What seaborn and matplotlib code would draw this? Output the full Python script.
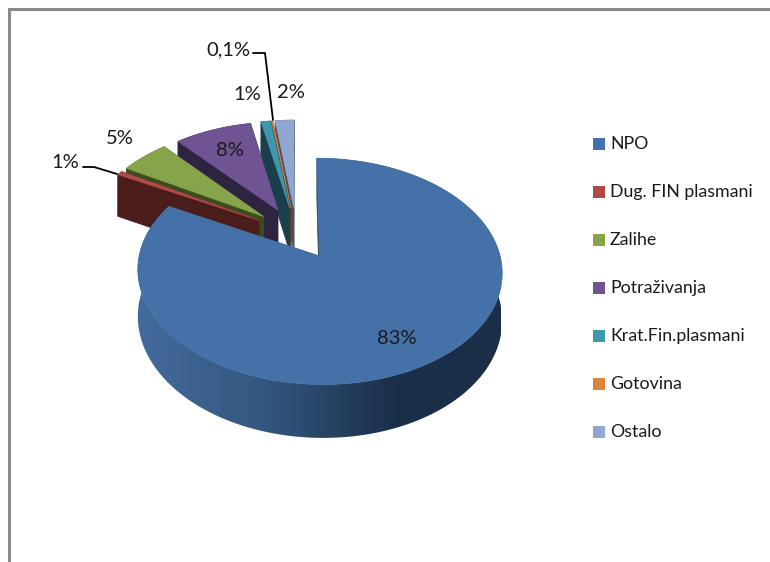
import numpy as np
import matplotlib
matplotlib.use("Agg")
import matplotlib.pyplot as plt
from matplotlib.patches import Polygon, Rectangle
from matplotlib.colors import LinearSegmentedColormap
import seaborn as sns

categories = ["NPO", "Dug. FIN plasmani", "Zalihe", "Potraživanja",
              "Krat.Fin.plasmani", "Gotovina", "Ostalo"]
values = [82.9, 0.6, 5.2, 8.2, 1, 0.1, 2]
value_labels = ["83%", "1%", "5%", "8%", "1%", "0,1%", "2%"]
top_colors = ["#4371a8", "#b04a48", "#86a44a", "#6f5393", "#3f97b0", "#dc843c", "#90a7d0"]
side_colors = ["#2a4566", "#4a1c1a", "#3d4c1f", "#2e2340", "#1a3f4c", "#6b3f1c", "#45506a"]

# projection of the pie plane onto the picture, in pixels
CX, CY = 296.5, 233
A, B = 175.5, 105
K = 0.13
DEPTH = 45

sns.set_theme(style="white")
plt.rcParams["font.family"] = ["Lato", "DejaVu Sans"]

fig = plt.figure(figsize=(7.7, 5.62), dpi=100)

# let pie work out the angles, then project its wedges by hand
helper = fig.add_axes([0, 0, 1, 1])
wedges, _ = helper.pie(values, explode=[0.25] * len(values), startangle=90,
                       counterclock=False, colors=sns.color_palette(top_colors))
wedge_geo = [(w.center, w.r, w.theta1, w.theta2) for w in wedges]
helper.remove()

ax = fig.add_axes([0, 0, 1, 1])
ax.set_xlim(0, 770)
ax.set_ylim(562, 0)
ax.axis("off")


def project(u, v, drop=0.0):
    s = 1 / (1 + K * v)
    return np.column_stack([CX + A * u * s, CY - B * v * s + drop * s])


def wedge_outline(geo, n=160):
    (cu, cv), r, t1, t2 = geo
    t = np.radians(np.linspace(t1, t2, n))
    return cu + r * np.cos(t), cv + r * np.sin(t), cu, cv


def draw_slice(i, z):
    u, v, cu, cv = wedge_outline(wedge_geo[i])
    arc_top = project(u, v)
    arc_low = project(u, v, DEPTH)
    apex_top = project(np.array([cu]), np.array([cv]))
    apex_low = project(np.array([cu]), np.array([cv]), DEPTH)
    # the two cut faces
    for end in (0, -1):
        face = np.vstack([apex_top, arc_top[end], arc_low[end], apex_low])
        ax.add_patch(Polygon(face, fc=side_colors[i], ec=side_colors[i], lw=0.5, zorder=z))
    wall = np.vstack([arc_top, arc_low[::-1]])
    if i == 0:
        # the big slice has a shaded rim, light on the left
        cmap = LinearSegmentedColormap.from_list(
            "rim", [(0, "#436b9c"), (0.35, "#34577f"), (0.72, "#1a2e47"), (1, "#1b2f49")])
        grad = np.linspace(0, 1, 256).reshape(1, -1)
        im = ax.imshow(grad, extent=(137, 501, 562, 0), cmap=cmap, aspect="auto", zorder=z)
        clip = Polygon(wall, transform=ax.transData, fc="none", ec="none")
        ax.add_patch(clip)
        im.set_clip_path(clip)
    else:
        ax.add_patch(Polygon(wall, fc=side_colors[i], ec=side_colors[i], lw=0.5, zorder=z))
    top = np.vstack([apex_top, arc_top])
    ax.add_patch(Polygon(top, fc=top_colors[i], ec=top_colors[i], lw=0.5, zorder=z + 0.5))


# back slices first, the big one last
order = [6, 5, 4, 3, 2, 1, 0]
for z, i in enumerate(order, start=2):
    draw_slice(i, z)

ax.set_xlim(0, 770)
ax.set_ylim(562, 0)

# frame of the chart area
ax.plot([9, 9, 770], [562, 8.5, 8.5], color="#8a8a8a", lw=2.2, solid_joinstyle="miter", zorder=1)

# value labels
label_xy = [(397, 338), (65, 162), (120, 138), (230, 150), (247, 95), (228, 50), (291, 93)]
for text, (x, y) in zip(value_labels, label_xy):
    ax.text(x, y, text, fontsize=14.5, color="#1a1a1a", ha="center", va="center", zorder=20)

# leader lines
ax.plot([83, 94, 117], [167, 167, 174], color="black", lw=1.3, zorder=19)
ax.plot([253, 265, 273], [53, 53, 120], color="black", lw=1.3, zorder=19)

# legend
legend_y = [144, 192, 240, 288, 336, 384, 432]
for name, color, y in zip(categories, top_colors, legend_y):
    ax.add_patch(Rectangle((593, y - 6), 12, 12, fc=color, ec="none", zorder=5))
    ax.text(610, y, name, fontsize=12.8, color="#1a1a1a", ha="left", va="center", zorder=5)

fig.savefig("out.png", dpi=100)
